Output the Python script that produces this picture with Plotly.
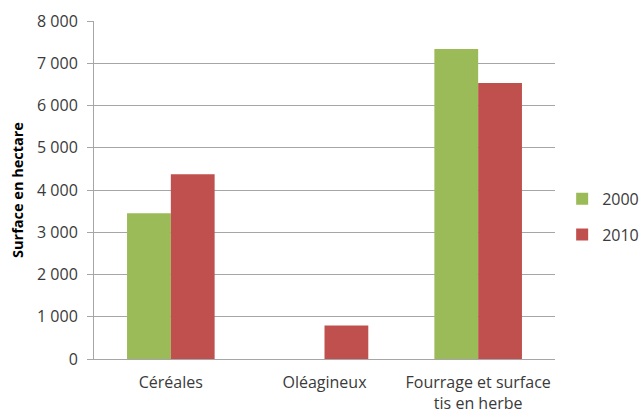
import plotly.graph_objects as go

categories = ["Céréales", "Oléagineux", "Fourrage et surface<br>tis en herbe"]
values_2000 = [3450, None, 7340]
values_2010 = [4370, 790, 6530]
y_ticks = [0, 1000, 2000, 3000, 4000, 5000, 6000, 7000, 8000]
y_tick_labels = ["0", "1 000", "2 000", "3 000", "4 000", "5 000", "6 000", "7 000", "8 000"]

font_family = "Open Sans, Liberation Sans, sans-serif"
text_color = "#3a3a3a"
grid_color = "#a6a6a6"

fig = go.Figure()
fig.add_trace(go.Bar(name="2000", x=categories, y=values_2000,
                     marker=dict(color="#9BBB59", line=dict(width=0)),
                     legendgroup="a"))
fig.add_trace(go.Bar(name="2010", x=categories, y=values_2010,
                     marker=dict(color="#C0504D", line=dict(width=0)),
                     legendgroup="b"))

fig.update_layout(
    width=641, height=417,
    margin=dict(l=94, r=86, t=21, b=58, autoexpand=False),
    paper_bgcolor="white", plot_bgcolor="white",
    barmode="group", bargap=0.43, bargroupgap=0,
    font=dict(family=font_family, size=16, color=text_color),
    legend=dict(xref="container", yref="container",
                x=0.877, xanchor="left", y=0.48, yanchor="middle",
                font=dict(size=16, color=text_color),
                tracegroupgap=12, itemwidth=30,
                bgcolor="rgba(0,0,0,0)"),
    showlegend=True,
)
fig.update_xaxes(showline=True, linecolor=grid_color, linewidth=1,
                 ticks="", showgrid=False, ticklabelstandoff=9,
                 automargin=False,
                 tickfont=dict(size=16, color=text_color))
fig.update_yaxes(range=[0, 8000], tickvals=y_ticks, ticktext=y_tick_labels,
                 showgrid=True, gridcolor=grid_color, gridwidth=1,
                 showline=True, linecolor=grid_color, linewidth=1,
                 ticks="outside", ticklen=6, tickcolor=grid_color,
                 zeroline=False, ticklabelstandoff=6, automargin=False,
                 tickfont=dict(size=16, color=text_color),
                 title=dict(text="<b>Surface en hectare</b>",
                            font=dict(size=14.5, color="#000000"), standoff=9))

fig.write_html("out.html")
